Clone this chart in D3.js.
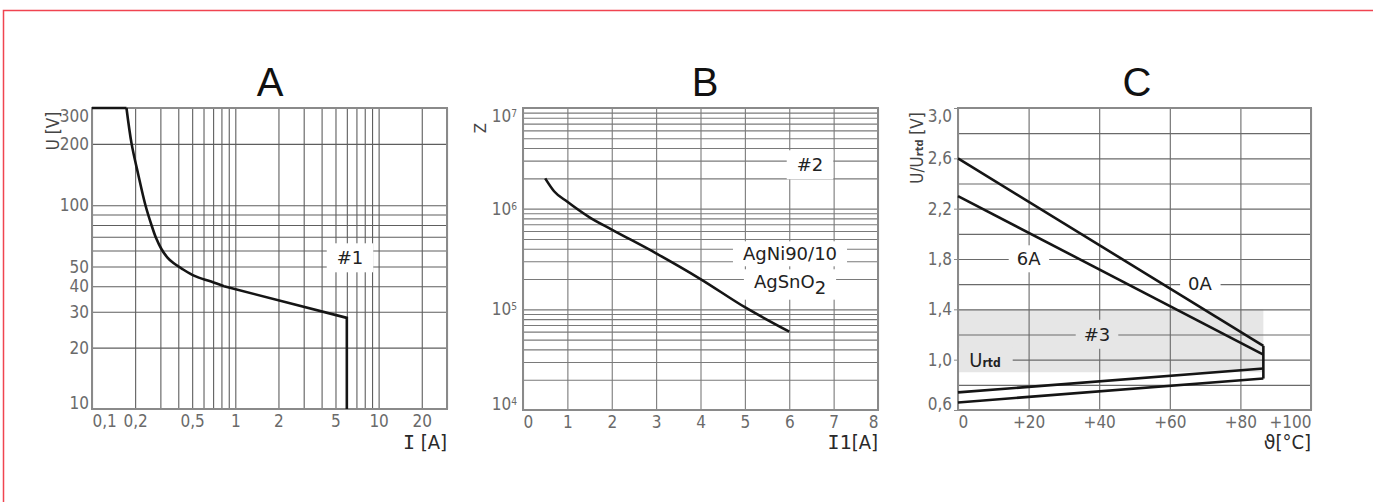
<!DOCTYPE html>
<html>
<head>
<meta charset="utf-8">
<script src="https://cdn.jsdelivr.net/npm/d3@7"></script>
<style>
body { margin: 0; background: #fff; }
</style>
</head>
<body>
<script>
const w = 1373;
const h = 502;
const narrow = '"Liberation Sans Narrow", "DejaVu Sans Condensed", "Arial Narrow", sans-serif';
const plain = '"DejaVu Sans", Verdana, sans-serif';
const labelColor = "#6a6a6a";

// A: U [V] against I [A]
const aCurrent = [0.174, 0.189, 0.21, 0.236, 0.26, 0.28, 0.305, 0.335, 0.37, 0.42, 0.519, 0.678, 0.835];
const aVoltage = [300, 200, 142, 100, 80, 69, 61, 55.5, 52, 49, 45, 42.2, 40];
const aTail = [[0.1, 300], [0.174, 300]];
const aEnd = [[0.835, 40], [6, 28], [6, 10]];
const aXLabels = [0.1, 0.2, 0.5, 1, 2, 5, 10, 20];
const aYLabels = [10, 20, 30, 40, 50, 100, 200, 300];

// B: Z against I1 [A]
const bCurrent = [0.5, 0.7, 1, 1.5, 2, 3, 4, 5, 6];
const bCycles = [2.0e6, 1.49e6, 1.17e6, 8.2e5, 6.2e5, 3.6e5, 2.0e5, 1.05e5, 6e4];
const bXLabels = [0, 1, 2, 3, 4, 5, 6, 7, 8];
const bYLabels = [1e4, 1e5, 1e6, 1e7];

// C: U/Urtd against temperature
const cTemp = [0, 86.5];
const c0A = [2.6, 1.11];
const c6A = [2.3, 1.04];
const cLow1 = [0.74, 0.93];
const cLow2 = [0.66, 0.85];
const cBand = [0.9, 1.4];
const cXLabels = [0, 20, 40, 60, 80, 100];
const cYLabels = [0.6, 1.0, 1.4, 1.8, 2.2, 2.6, 3.0];

const boxA = { left: 92, top: 108, right: 447, bottom: 409 };
const boxB = { left: 523, top: 108, right: 878, bottom: 410 };
const boxC = { left: 958, top: 108, right: 1311, bottom: 410 };

const svg = d3.select("body").append("svg").attr("width", w).attr("height", h);

// red page frame
svg.append("path")
    .attr("d", "M3.5," + h + " V10.5 H" + w)
    .attr("fill", "none")
    .attr("stroke", "#f04450")
    .attr("stroke-width", 1.5);

const xA = d3.scaleLog().domain([0.1, 30]).range([boxA.left, boxA.right]);
const yA = d3.scaleLog().domain([10, 300]).range([boxA.bottom, boxA.top]);
const xB = d3.scaleLinear().domain([0, 8]).range([boxB.left, boxB.right]);
const yB = d3.scaleLog().domain([1e4, 1e7]).range([boxB.bottom, boxB.top]);
const xC = d3.scaleLinear().domain([0, 100]).range([boxC.left, boxC.right]);
const yC = d3.scaleLinear().domain([0.6, 3.0]).range([boxC.bottom, boxC.top]);

// shaded band in C
svg.append("rect")
    .attr("x", xC(cTemp[0]))
    .attr("y", yC(cBand[1]))
    .attr("width", xC(cTemp[1]) - xC(cTemp[0]))
    .attr("height", yC(cBand[0]) - yC(cBand[1]))
    .attr("fill", "#e6e6e6");

drawGrid(boxA, xA, yA, xA.ticks(), yA.ticks(), "#5e5e5e");
drawGrid(boxB, xB, yB, xB.ticks(8), yB.ticks(), "#7a7a7a");
drawGrid(boxC, xC, yC, xC.ticks(5), yC.ticks(12), "#6a6a6a");

// boxed labels
addTag(350, 258, "#fff", 10, 4, function (t) { t.text("#1"); });
addTag(810, 165, "#fff", 10, 4, function (t) { t.text("#2"); });
addTag(790, 254, "#fff", 10, 2, function (t) { t.text("AgNi90/10"); });
addTag(790, 282, "#fff", 10, 2, function (t) {
    t.text("AgSnO");
    t.append("tspan").attr("dy", "0.3em").text("2");
});
addTag(xC(20), yC(1.8), "#fff", 8, 3, function (t) { t.text("6A"); });
addTag(1200, yC(1.6), "#fff", 8, 3, function (t) { t.text("0A"); });
addTag(1097, yC(1.2), "#e6e6e6", 8, 4, function (t) { t.text("#3"); });
addTag(985, yC(1.0), "#e6e6e6", 12, 0, function (t) {
    t.attr("font-family", narrow).attr("font-size", 20);
    t.text("U");
    t.append("tspan").attr("font-size", 12).attr("font-weight", "bold").text("rtd");
});

// frames
[boxA, boxB, boxC].forEach(function (b) {
    svg.append("rect")
        .attr("x", b.left)
        .attr("y", b.top)
        .attr("width", b.right - b.left)
        .attr("height", b.bottom - b.top)
        .attr("fill", "none")
        .attr("stroke", "#8a8a8a")
        .attr("stroke-width", 2);
});

// curves
const lineA = d3.line().x(function (d) { return xA(d[0]); }).y(function (d) { return yA(d[1]); });
drawPath(lineA(aTail));
drawPath(lineA(aEnd));
drawPath(lineA.curve(d3.curveCatmullRom.alpha(0.5))(d3.zip(aCurrent, aVoltage)));

const lineB = d3.line()
    .x(function (d) { return xB(d[0]); })
    .y(function (d) { return yB(d[1]); })
    .curve(d3.curveMonotoneX);
drawPath(lineB(d3.zip(bCurrent, bCycles)));

const lineC = d3.line().x(function (d) { return xC(d[0]); }).y(function (d) { return yC(d[1]); });
[c0A, c6A, cLow1, cLow2].forEach(function (s) {
    drawPath(lineC(d3.zip(cTemp, s)));
});
drawPath(lineC([[cTemp[1], c0A[1]], [cTemp[1], cLow2[1]]]));

// tick labels
xLabels(boxA, xA, aXLabels, function (d) { return String(d).replace(".", ","); });
yLabels(boxA, yA, aYLabels, 0, 3, function (d) { return String(d); });
xLabels(boxB, xB, bXLabels, function (d) { return String(d); });
yLabels(boxB, yB, bYLabels, 0, 6, function () { return ""; })
    .selectAll(".tick text")
    .each(function (d) {
        const t = d3.select(this);
        t.text("10");
        t.append("tspan")
            .attr("dy", "-0.5em")
            .attr("font-size", "0.6em")
            .text(Math.round(Math.log10(d)));
    });
xLabels(boxC, xC, cXLabels, function (d) { return d === 0 ? "0" : "+" + d; });
yLabels(boxC, yC, cYLabels, 4, 2, function (d) { return d.toFixed(1).replace(".", ","); });

// titles
[["A", 270], ["B", 705], ["C", 1137]].forEach(function (p) {
    svg.append("text")
        .attr("x", p[1])
        .attr("y", 96)
        .attr("text-anchor", "middle")
        .attr("font-family", '"Liberation Sans", Arial, sans-serif')
        .attr("font-size", 40)
        .attr("fill", "#111")
        .text(p[0]);
});

// axis titles
axisTitleX(boxA.right, function (t) {
    t.append("tspan").attr("font-family", '"DejaVu Sans Mono", monospace').text("I");
    t.append("tspan").text(" [A]");
});
axisTitleX(boxB.right, function (t) {
    t.append("tspan").attr("font-family", '"DejaVu Sans Mono", monospace').text("I1");
    t.append("tspan").text("[A]");
});
axisTitleX(boxC.right, function (t) {
    t.append("tspan").attr("font-family", plain).attr("font-size", 19).text("ϑ");
    t.append("tspan").text("[°C]");
});

axisTitleY(53, 131, function (t) { t.text("U [V]"); });
axisTitleY(481, 128, function (t) { t.attr("font-family", plain).attr("font-size", 15).text("Z"); });
axisTitleY(917, 148, function (t) {
    t.text("U/U");
    t.append("tspan").attr("font-size", 11).attr("font-weight", "bold").text("rtd");
    t.append("tspan").text(" [V]");
});

function drawGrid(box, x, y, xVals, yVals, color) {
    const g = svg.append("g");
    g.append("g")
        .attr("transform", "translate(0," + box.bottom + ")")
        .call(d3.axisBottom(x).tickValues(xVals).tickSize(-(box.bottom - box.top)).tickFormat(""));
    g.append("g")
        .attr("transform", "translate(" + box.left + ",0)")
        .call(d3.axisLeft(y).tickValues(yVals).tickSize(-(box.right - box.left)).tickFormat(""));
    g.selectAll(".domain").remove();
    g.selectAll("line").attr("stroke", color).attr("stroke-width", 1.1);
}

function drawPath(d) {
    svg.append("path")
        .attr("d", d)
        .attr("fill", "none")
        .attr("stroke", "#151515")
        .attr("stroke-width", 2.6);
}

function addTag(x, y, fill, padX, padY, build) {
    const g = svg.append("g");
    const rect = g.append("rect").attr("fill", fill);
    const t = g.append("text")
        .attr("x", x)
        .attr("y", y)
        .attr("dy", "0.35em")
        .attr("text-anchor", "middle")
        .attr("font-family", plain)
        .attr("font-size", 18)
        .attr("fill", "#222");
    build(t);
    const bb = t.node().getBBox();
    rect.attr("x", bb.x - padX)
        .attr("y", bb.y - padY)
        .attr("width", bb.width + 2 * padX)
        .attr("height", bb.height + 2 * padY);
}

function xLabels(box, x, vals, fmt) {
    const g = svg.append("g")
        .attr("transform", "translate(0," + box.bottom + ")")
        .call(d3.axisBottom(x).tickValues(vals).tickSize(0).tickPadding(6).tickFormat(fmt));
    g.attr("font-family", narrow).attr("font-size", 17);
    g.select(".domain").remove();
    g.selectAll("text").attr("fill", labelColor);
    g.selectAll(".tick").each(function (d) {
        const t = d3.select(this).select("text");
        if (Math.abs(x(d) - box.left) < 1) t.attr("text-anchor", "start");
        if (Math.abs(x(d) - box.right) < 1) t.attr("text-anchor", "end");
    });
    return g;
}

function yLabels(box, y, vals, size, pad, fmt) {
    const g = svg.append("g")
        .attr("transform", "translate(" + box.left + ",0)")
        .call(d3.axisLeft(y).tickValues(vals).tickSize(size).tickPadding(pad).tickFormat(fmt));
    g.attr("font-family", narrow).attr("font-size", 17);
    g.select(".domain").remove();
    g.selectAll("line").attr("stroke", "#8a8a8a");
    g.selectAll("text").attr("fill", labelColor);
    g.selectAll(".tick").each(function (d) {
        const t = d3.select(this).select("text");
        if (Math.abs(y(d) - box.top) < 1) t.attr("dy", "0.78em");
        if (Math.abs(y(d) - box.bottom) < 1) t.attr("dy", "-0.05em");
    });
    return g;
}

function axisTitleX(right, build) {
    const t = svg.append("text")
        .attr("x", right)
        .attr("y", 449)
        .attr("text-anchor", "end")
        .attr("font-family", narrow)
        .attr("font-size", 20)
        .attr("fill", "#2a2a2a");
    build(t);
}

function axisTitleY(x, y, build) {
    const t = svg.append("text")
        .attr("transform", "translate(" + x + "," + y + ")rotate(-90)")
        .attr("dy", "0.35em")
        .attr("text-anchor", "middle")
        .attr("font-family", narrow)
        .attr("font-size", 17)
        .attr("fill", "#444");
    build(t);
}
</script>
</body>
</html>
